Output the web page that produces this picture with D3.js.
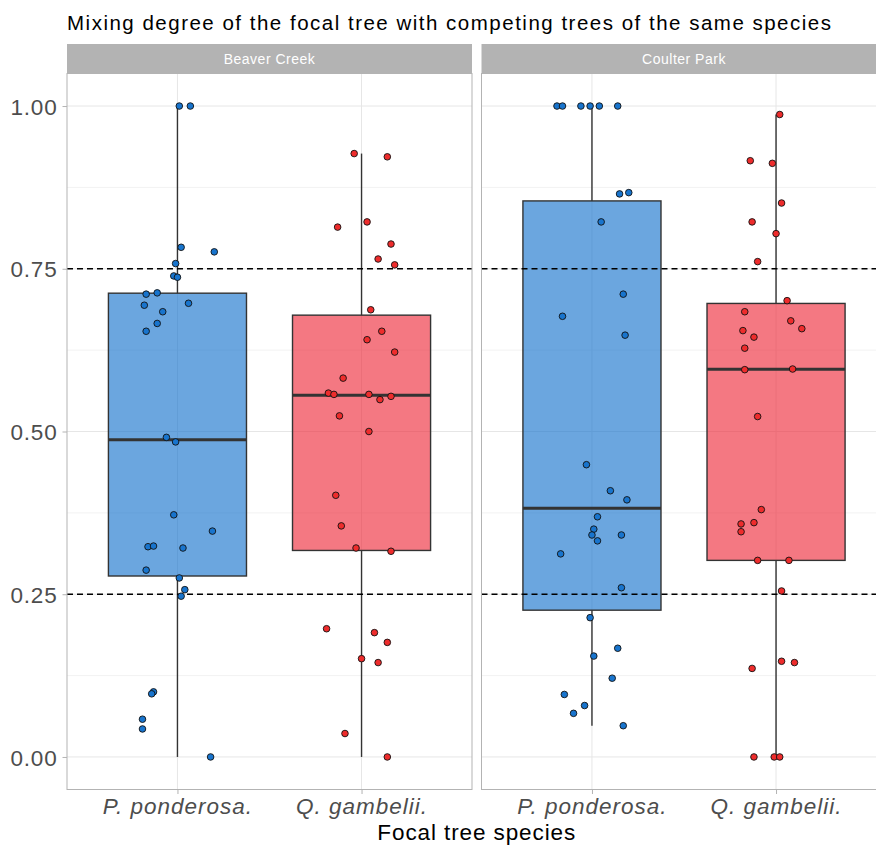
<!DOCTYPE html>
<html>
<head>
  <title>Mixing degree of the focal tree</title>
  <script src="https://d3js.org/d3.v7.min.js"></script>
  <style>
    body { margin: 0; background: #fff; }
    text { font-family: "Liberation Sans", Arial, sans-serif; }
  </style>
</head>
<body>
  <div id="chart"></div>

  <script>
    // Facets and categories
    const sites = ["Beaver Creek", "Coulter Park"];
    const species = ["P. ponderosa.", "Q. gambelii."];
    const yTicks = [0, 0.25, 0.5, 0.75, 1];
    const refLines = [0.25, 0.75];

    // Mixing degree values, with the horizontal jitter
    // of each point (fraction of category spacing)
    const bcPonderosa = [1.00, 1.00, 0.783, 0.776, 0.758, 0.739, 0.737, 0.711, 0.713, 0.694,
      0.697, 0.684, 0.666, 0.654, 0.491, 0.484, 0.372, 0.347, 0.323, 0.324,
      0.321, 0.287, 0.275, 0.257, 0.247, 0.100, 0.097, 0.058, 0.043, 0.000];
    const bcPonderosaJitter = [0.01, 0.07, 0.02, 0.20, -0.01, -0.02, 0.00, -0.17, -0.11, -0.18,
      0.06, -0.08, -0.11, -0.17, -0.06, -0.01, -0.02, 0.19, -0.16, -0.13,
      0.03, -0.17, 0.01, 0.04, 0.02, -0.13, -0.14, -0.19, -0.19, 0.18];

    const bcGambelii = [0.927, 0.922, 0.814, 0.822, 0.788, 0.765, 0.756, 0.687, 0.654, 0.641,
      0.622, 0.582, 0.559, 0.557, 0.557, 0.549, 0.554, 0.524, 0.500, 0.402,
      0.355, 0.321, 0.316, 0.197, 0.191, 0.176, 0.151, 0.145, 0.036, 0.000];
    const bcGambeliiJitter = [-0.04, 0.14, -0.13, 0.03, 0.16, 0.09, 0.18, 0.05, 0.11, 0.03,
      0.18, -0.10, -0.18, -0.15, 0.04, 0.10, 0.16, -0.12, 0.04, -0.14,
      -0.11, -0.03, 0.16, -0.19, 0.07, 0.14, 0.00, 0.09, -0.09, 0.14];

    const cpPonderosa = [1.00, 1.00, 1.00, 1.00, 1.00, 1.00, 0.865, 0.867, 0.822, 0.711,
      0.677, 0.648, 0.449, 0.409, 0.395, 0.369, 0.350, 0.341, 0.341, 0.332,
      0.312, 0.260, 0.214, 0.167, 0.155, 0.121, 0.096, 0.079, 0.067, 0.048];
    const cpPonderosaJitter = [-0.19, -0.16, -0.06, -0.01, 0.04, 0.14, 0.15, 0.20, 0.05, 0.17,
      -0.16, 0.18, -0.03, 0.10, 0.19, 0.03, 0.01, 0.00, 0.16, 0.03,
      -0.17, 0.16, -0.01, 0.14, 0.01, 0.11, -0.15, -0.04, -0.10, 0.17];

    const cpGambelii = [0.987, 0.916, 0.912, 0.851, 0.822, 0.804, 0.761, 0.701, 0.684, 0.670,
      0.655, 0.658, 0.645, 0.628, 0.595, 0.596, 0.523, 0.380, 0.360, 0.358,
      0.346, 0.302, 0.302, 0.255, 0.147, 0.145, 0.136, 0.000, 0.000, 0.000];
    const cpGambeliiJitter = [0.02, -0.14, -0.02, 0.03, -0.13, 0.00, -0.10, 0.06, -0.17, 0.08,
      -0.18, 0.14, -0.12, -0.17, -0.17, 0.09, -0.10, -0.08, -0.12, -0.19,
      -0.19, -0.10, 0.07, 0.03, 0.03, 0.10, -0.13, -0.12, -0.01, 0.02];

    const groups = [
      { site: sites[0], sp: species[0], values: bcPonderosa, jitter: bcPonderosaJitter },
      { site: sites[0], sp: species[1], values: bcGambelii, jitter: bcGambeliiJitter },
      { site: sites[1], sp: species[0], values: cpPonderosa, jitter: cpPonderosaJitter },
      { site: sites[1], sp: species[1], values: cpGambelii, jitter: cpGambeliiJitter }
    ];

    const boxFill = { "P. ponderosa.": "#1874CD", "Q. gambelii.": "#EE2C3C" };
    const dotFill = { "P. ponderosa.": "#1874CD", "Q. gambelii.": "#EE2C2C" };

    // Layout
    const W = 876, H = 845;
    const panelTop = 73.5, panelBottom = 789.5;
    const panelW = 405;
    const panelLeft = { "Beaver Creek": 67, "Coulter Park": 481.5 };
    const stripH = 29.5;

    const svg = d3.select("#chart").append("svg")
      .attr("width", W)
      .attr("height", H);

    const yScale = d3.scaleLinear()
      .domain([-0.05, 1.05])
      .range([panelBottom, panelTop]);

    // Title
    svg.append("text")
      .attr("x", 67)
      .attr("y", 30)
      .style("font-size", "20.5px")
      .style("letter-spacing", "1.5px")
      .style("fill", "#000")
      .text("Mixing degree of the focal tree with competing trees of the same species");

    // Y axis (left of first panel)
    const yAxis = svg.append("g")
      .attr("transform", "translate(" + panelLeft[sites[0]] + ",0)")
      .call(d3.axisLeft(yScale).tickValues(yTicks).tickFormat(d3.format(".2f")).tickSize(4.5).tickPadding(5));
    yAxis.select(".domain").remove();
    yAxis.selectAll(".tick line").attr("stroke", "#B3B3B3");
    yAxis.selectAll(".tick text")
      .style("font-size", "22.5px")
      .style("letter-spacing", "0.8px")
      .attr("fill", "#4D4D4D")
      .attr("dy", "0.36em");

    const minorTicks = d3.range(0, 4).map(i => 0.125 + i * 0.25);

    sites.forEach(function(site) {
      const x0 = panelLeft[site];
      const xScale = d3.scalePoint()
        .domain(species)
        .range([x0, x0 + panelW])
        .padding(0.6);
      const step = xScale.step();
      const g = svg.append("g");

      // Strip
      g.append("rect")
        .attr("x", x0)
        .attr("y", panelTop - stripH)
        .attr("width", panelW)
        .attr("height", stripH)
        .attr("fill", "#B3B3B3");
      g.append("text")
        .attr("x", x0 + panelW / 2)
        .attr("y", panelTop - stripH / 2)
        .attr("dy", "0.35em")
        .attr("text-anchor", "middle")
        .style("font-size", "14px")
        .style("letter-spacing", "0.5px")
        .style("fill", "#fff")
        .text(site);

      // Grid
      g.selectAll(".minor")
        .data(minorTicks)
        .enter()
        .append("line")
        .attr("x1", x0).attr("x2", x0 + panelW)
        .attr("y1", d => yScale(d)).attr("y2", d => yScale(d))
        .attr("stroke", "#F2F2F2")
        .attr("stroke-width", 1);
      g.selectAll(".major")
        .data(yTicks)
        .enter()
        .append("line")
        .attr("x1", x0).attr("x2", x0 + panelW)
        .attr("y1", d => yScale(d)).attr("y2", d => yScale(d))
        .attr("stroke", "#E6E6E6")
        .attr("stroke-width", 1);
      g.selectAll(".vgrid")
        .data(species)
        .enter()
        .append("line")
        .attr("x1", d => xScale(d)).attr("x2", d => xScale(d))
        .attr("y1", panelTop).attr("y2", panelBottom)
        .attr("stroke", "#E6E6E6")
        .attr("stroke-width", 1);

      // Boxplots
      groups.filter(d => d.site === site).forEach(function(grp) {
        const sorted = grp.values.slice().sort(d3.ascending);
        const q1 = d3.quantile(sorted, 0.25);
        const med = d3.quantile(sorted, 0.5);
        const q3 = d3.quantile(sorted, 0.75);
        const iqr = q3 - q1;
        const lo = d3.min(sorted.filter(v => v >= q1 - 1.5 * iqr));
        const hi = d3.max(sorted.filter(v => v <= q3 + 1.5 * iqr));
        const cx = xScale(grp.sp);
        const bw = step * 0.75;

        g.append("line")
          .attr("x1", cx).attr("x2", cx)
          .attr("y1", yScale(hi)).attr("y2", yScale(q3))
          .attr("stroke", "#333").attr("stroke-width", 1.4);
        g.append("line")
          .attr("x1", cx).attr("x2", cx)
          .attr("y1", yScale(q1)).attr("y2", yScale(lo))
          .attr("stroke", "#333").attr("stroke-width", 1.4);
        g.append("rect")
          .attr("x", cx - bw / 2)
          .attr("y", yScale(q3))
          .attr("width", bw)
          .attr("height", yScale(q1) - yScale(q3))
          .attr("fill", boxFill[grp.sp])
          .attr("fill-opacity", 0.64)
          .attr("stroke", "#333")
          .attr("stroke-width", 1.4);
        g.append("line")
          .attr("x1", cx - bw / 2).attr("x2", cx + bw / 2)
          .attr("y1", yScale(med)).attr("y2", yScale(med))
          .attr("stroke", "#333").attr("stroke-width", 3);
      });

      // Reference lines
      g.selectAll(".ref")
        .data(refLines)
        .enter()
        .append("line")
        .attr("x1", x0).attr("x2", x0 + panelW)
        .attr("y1", d => yScale(d)).attr("y2", d => yScale(d))
        .attr("stroke", "#000")
        .attr("stroke-width", 1.5)
        .attr("stroke-dasharray", "6,4");

      // Jittered points
      groups.filter(d => d.site === site).forEach(function(grp) {
        g.selectAll(null)
          .data(grp.values.map((v, i) => ({ v: v, j: grp.jitter[i] })))
          .enter()
          .append("circle")
          .attr("cx", d => xScale(grp.sp) + d.j * step)
          .attr("cy", d => yScale(d.v))
          .attr("r", 3.3)
          .attr("fill", dotFill[grp.sp])
          .attr("stroke", "#111")
          .attr("stroke-width", 0.9);
      });

      // Panel border
      g.append("rect")
        .attr("x", x0)
        .attr("y", panelTop)
        .attr("width", panelW)
        .attr("height", panelBottom - panelTop)
        .attr("fill", "none")
        .attr("stroke", "#B3B3B3")
        .attr("stroke-width", 1);

      // X axis
      const xAxis = g.append("g")
        .attr("transform", "translate(0," + panelBottom + ")")
        .call(d3.axisBottom(xScale).tickSize(4.5).tickPadding(4));
      xAxis.select(".domain").remove();
      xAxis.selectAll(".tick line").attr("stroke", "#B3B3B3");
      xAxis.selectAll(".tick text")
        .style("font-size", "22.5px")
        .style("font-style", "italic")
        .style("letter-spacing", "1px")
        .attr("fill", "#4D4D4D");
    });

    // X axis title
    svg.append("text")
      .attr("x", (panelLeft[sites[0]] + panelLeft[sites[1]] + panelW) / 2)
      .attr("y", 840)
      .attr("text-anchor", "middle")
      .style("font-size", "22.5px")
      .style("letter-spacing", "0.9px")
      .style("fill", "#000")
      .text("Focal tree species");
  </script>
</body>
</html>
